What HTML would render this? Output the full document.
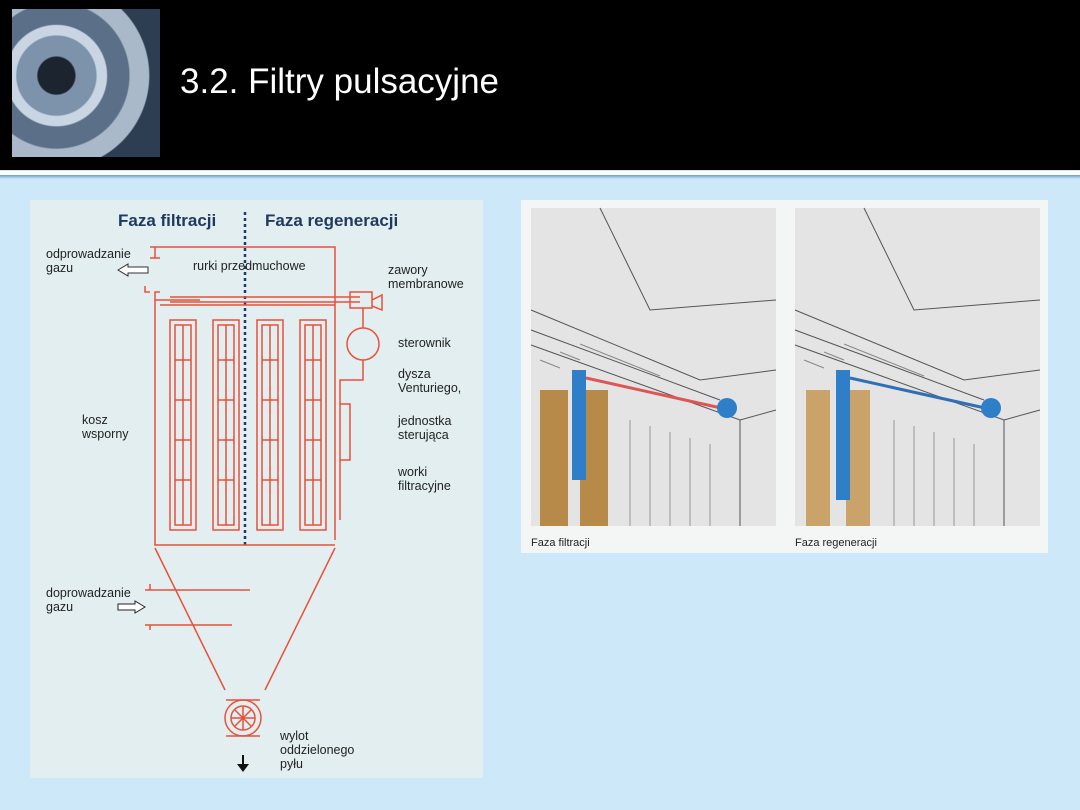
<!DOCTYPE html>
<html><head><meta charset="utf-8"><style>
body{margin:0;width:1080px;height:810px;overflow:hidden;background:#cde9f9;font-family:"Liberation Sans",sans-serif;position:relative}
.hdr{position:absolute;left:0;top:0;width:1080px;height:170px;background:#000}
.gear{position:absolute;left:12px;top:9px;width:148px;height:148px;background:radial-gradient(circle at 30% 45%,#1c2430 0 14%,#7d93ab 15% 30%,#c9d5e2 31% 38%,#5b7088 39% 55%,#aab9c9 56% 70%,#2e3e52 71%);}
.title{position:absolute;left:180px;top:62px;color:#fff;font-size:35px;font-family:"Liberation Sans",sans-serif}
.l1{position:absolute;left:0;top:171px;width:1080px;height:4px;background:#fff}
.l2{position:absolute;left:0;top:175px;width:1080px;height:4px;background:linear-gradient(#6a9cc8,#cde9f9)}
.lp{position:absolute;left:30px;top:200px;width:453px;height:578px;background:#e3eef0}
.rp{position:absolute;left:521px;top:200px;width:527px;height:353px;background:#f4f5f5}
.ri{position:absolute;top:208px;width:245px;height:318px;background:#e4e4e4;overflow:hidden}
.cap{position:absolute;top:537px;font-size:11px;color:#222}
</style></head><body>
<div class="hdr"></div><div class="gear"></div>
<div class="title">3.2. Filtry pulsacyjne</div>
<div class="l1"></div><div class="l2"></div>
<div class="lp"></div>
<svg style="position:absolute;left:0;top:0" width="1080" height="810">
<g font-family="Liberation Sans,sans-serif" fill="#1e3a5c">
<text x="118" y="226" font-size="17" font-weight="bold">Faza filtracji</text>
<text x="265" y="226" font-size="17" font-weight="bold">Faza regeneracji</text>
</g>
<line x1="245" y1="212" x2="245" y2="545" stroke="#1e3a70" stroke-width="2.5" stroke-dasharray="3,3"/>
<g fill="none" stroke="#e8513a" stroke-width="1.5">
<path d="M150 247H335V540M155 258V247M150 258H160M150 292H145V286M160 292H155V545H335"/>
<path d="M155 300H200M160 305H335M170 297H360M170 302H360"/>
<rect x="350" y="292" width="22" height="16"/>
<circle cx="363" cy="344" r="16"/>
<path d="M363 308V328M363 360V380H340V520M340 404H350V460H340M372 300L382 295V310L372 306"/>
<path d="M155 548L225 690M335 548L265 690M145 590H250M145 625H232M150 590V584M150 625V630"/>
<circle cx="243" cy="718" r="18"/><circle cx="243" cy="718" r="12"/>
<path d="M231 718H255M243 706V730M235 710L251 726M251 710L235 726M226 700H260M226 736H260"/>
<g id="bag"><rect x="170" y="320" width="26" height="210"/><rect x="175" y="325" width="16" height="200"/>
<path d="M175 360H191M175 400H191M175 440H191M175 480H191M183 325V525"/></g>
<use href="#bag" x="43"/><use href="#bag" x="87"/><use href="#bag" x="130"/>
</g>
<g fill="#fff" stroke="#333" stroke-width="1"><path d="M118 270L128 264V267H148V273H128V276Z"/></g>
<g fill="#fff" stroke="#222" stroke-width="1"><path d="M145 607L135 601V604H118V610H135V613Z"/></g>
<path d="M242 755V764H237L243 772L249 764H244V755Z" fill="#111"/>
<g font-family="Liberation Sans,sans-serif" font-size="12.5" fill="#222">
<text x="46" y="258">odprowadzanie</text><text x="46" y="272">gazu</text>
<text x="193" y="270">rurki przedmuchowe</text>
<text x="388" y="274">zawory</text><text x="388" y="288">membranowe</text>
<text x="398" y="347">sterownik</text>
<text x="398" y="378">dysza</text><text x="398" y="392">Venturiego,</text>
<text x="82" y="424">kosz</text><text x="82" y="438">wsporny</text>
<text x="398" y="425">jednostka</text><text x="398" y="439">sterująca</text>
<text x="398" y="476">worki</text><text x="398" y="490">filtracyjne</text>
<text x="46" y="597">doprowadzanie</text><text x="46" y="611">gazu</text>
<text x="280" y="740">wylot</text><text x="280" y="754">oddzielonego</text><text x="280" y="768">pyłu</text>
</g>
</svg>
<div class="rp"></div>
<div class="ri" style="left:531px"></div>
<div class="ri" style="left:795px"></div>
<svg style="position:absolute;left:0;top:0" width="1080" height="810">
<g fill="none" stroke="#555" stroke-width="1">
<path d="M531 310L700 380L776 370M531 330L720 400M600 208L650 310L776 300M531 345L740 420L776 410M740 420V526"/>
<path d="M795 310L964 380L1040 370M795 330L984 400M864 208L914 310L1040 300M795 345L1004 420L1040 410M1004 420V526"/>
<path d="M630 420V526M650 426V526M670 432V526M690 438V526M710 444V526M894 420V526M914 426V526M934 432V526M954 438V526M974 444V526" stroke="#999"/>
</g>
<g fill="none" stroke="#888" stroke-width="1">
<path d="M540 360l20 8M560 352l20 8M580 344l20 8M600 352l20 8M620 360l20 8M640 368l20 8M804 360l20 8M824 352l20 8M844 344l20 8M864 352l20 8M884 360l20 8M904 368l20 8"/>
</g>
<rect x="540" y="390" width="28" height="136" fill="#b88a4a"/>
<rect x="580" y="390" width="28" height="136" fill="#b88a4a"/>
<rect x="572" y="370" width="14" height="110" fill="#2f7fc8"/>
<rect x="806" y="390" width="24" height="136" fill="#c9a36a"/>
<rect x="846" y="390" width="24" height="136" fill="#c9a36a"/>
<rect x="836" y="370" width="14" height="130" fill="#2f7fc8"/>
<line x1="586" y1="378" x2="730" y2="410" stroke="#d55" stroke-width="3"/>
<line x1="850" y1="378" x2="994" y2="410" stroke="#2f6fb8" stroke-width="3"/>
<circle cx="727" cy="408" r="10" fill="#2f7fc8"/><circle cx="991" cy="408" r="10" fill="#2f7fc8"/>
</svg>
<div class="cap" style="left:531px">Faza filtracji</div>
<div class="cap" style="left:795px">Faza regeneracji</div>
</body></html>
